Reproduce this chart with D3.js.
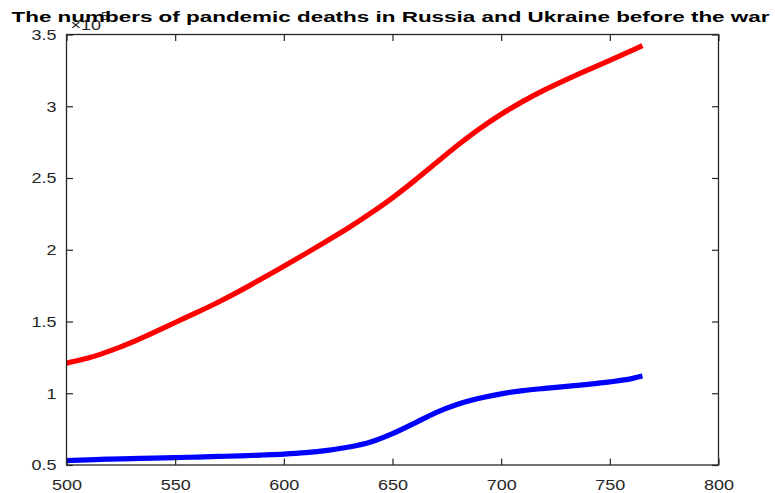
<!DOCTYPE html>
<html>
<head>
<meta charset="utf-8">
<script src="https://cdn.jsdelivr.net/npm/d3@7"></script>
<style>
  html, body { margin: 0; padding: 0; background: #fff; }
  svg { display: block; font-family: "Liberation Sans", Arial, Helvetica, sans-serif; }
</style>
</head>
<body>
<svg id="chart" width="775" height="493"></svg>
<script>
// Day index (days since the start of the pandemic)
const days = [500, 510, 520, 530, 540, 550, 560, 570, 580, 590, 600, 610, 620, 630,
              640, 650, 660, 670, 680, 690, 700, 710, 720, 730, 740, 750, 760, 765];

// Cumulative pandemic deaths
const russiaDeaths = [121000, 124500, 129500, 135500, 142300, 149300, 156300, 163600,
                      171500, 180000, 188500, 197300, 206300, 215500, 225500, 236200,
                      248000, 260500, 272800, 284200, 294400, 303400, 311400, 318600,
                      325400, 332000, 338800, 342300];
const ukraineDeaths = [53000, 53600, 54100, 54500, 54850, 55200, 55550, 55950,
                       56400, 56950, 57600, 58600, 60200, 62500, 66000, 71800,
                       79000, 86500, 92300, 96500, 99600, 101800, 103400, 104800,
                       106200, 107900, 110200, 112000];

// Axis ticks
const xTicks = [500, 550, 600, 650, 700, 750, 800];
const yTicks = [50000, 100000, 150000, 200000, 250000, 300000, 350000];

const titleText = "The numbers of pandemic deaths in Russia and Ukraine before the war";

const box = { left: 66.5, right: 718.5, top: 34.5, bottom: 465 };
const axisColor = "#262626";
const stretch = 1.2;   // glyphs are drawn a little wider than tall

const svg = d3.select("#chart");

const x = d3.scaleLinear().domain([500, 800]).range([box.left, box.right]);
const y = d3.scaleLinear().domain([50000, 350000]).range([box.bottom, box.top]);

const fmtY = v => String(+(v / 1e5).toFixed(1));

// Exponent label, drawn first so the title sits over it
const expo = svg.append("g")
  .attr("fill", axisColor)
  .attr("transform", `translate(70.5,30) scale(${stretch},1)`);
expo.append("text")
  .attr("font-size", 15)
  .text("\u00d710");
expo.append("text")
  .attr("x", 25.5)
  .attr("y", -10)
  .attr("font-size", 11)
  .text("5");

// Lines
const line = d3.line()
  .x((d, i) => x(days[i]))
  .y(d => y(d))
  .curve(d3.curveMonotoneX);

const plot = svg.append("g");
plot.append("path")
  .datum(russiaDeaths)
  .attr("d", line)
  .attr("fill", "none")
  .attr("stroke", "#ff0000")
  .attr("stroke-width", 5.2)
  .attr("stroke-linejoin", "round");
plot.append("path")
  .datum(ukraineDeaths)
  .attr("d", line)
  .attr("fill", "none")
  .attr("stroke", "#0000ff")
  .attr("stroke-width", 5.2)
  .attr("stroke-linejoin", "round");

// Axes (ticks point inward)
function styleAxis(g) {
  g.selectAll(".domain").remove();
  g.selectAll(".tick line").attr("stroke", axisColor).attr("stroke-width", 1.2);
  g.selectAll(".tick text")
    .attr("fill", axisColor)
    .attr("font-size", 15)
    .attr("font-family", null);
}

const gx = svg.append("g")
  .attr("transform", `translate(0,${box.bottom})`)
  .call(d3.axisBottom(x).tickValues(xTicks).tickSizeInner(-6.5).tickSizeOuter(0).tickPadding(14).tickFormat(d3.format("d")));
styleAxis(gx);
gx.selectAll(".tick text").attr("transform", `scale(${stretch},1)`);

const gy = svg.append("g")
  .attr("transform", `translate(${box.left},0)`)
  .call(d3.axisLeft(y).tickValues(yTicks).tickSizeInner(-6.5).tickSizeOuter(0).tickPadding(10).tickFormat(fmtY));
styleAxis(gy);
gy.selectAll(".tick text")
  .attr("x", -10 / stretch)
  .attr("transform", `scale(${stretch},1)`);

// Mirrored ticks on top and right edges of the box
const gxTop = svg.append("g")
  .attr("transform", `translate(0,${box.top})`)
  .call(d3.axisTop(x).tickValues(xTicks).tickSizeInner(-6.5).tickSizeOuter(0).tickFormat(""));
styleAxis(gxTop);
const gyRight = svg.append("g")
  .attr("transform", `translate(${box.right},0)`)
  .call(d3.axisRight(y).tickValues(yTicks).tickSizeInner(-6.5).tickSizeOuter(0).tickFormat(""));
styleAxis(gyRight);

// Box outline
svg.append("rect")
  .attr("x", box.left)
  .attr("y", box.top)
  .attr("width", box.right - box.left)
  .attr("height", box.bottom - box.top)
  .attr("fill", "none")
  .attr("stroke", axisColor)
  .attr("stroke-width", 1.3);

// Title
svg.append("text")
  .attr("x", 11.5)
  .attr("y", 22.3)
  .attr("font-size", 15)
  .attr("font-weight", "bold")
  .attr("fill", "#000")
  .attr("textLength", 758)
  .attr("lengthAdjust", "spacingAndGlyphs")
  .text(titleText);
</script>
</body>
</html>
